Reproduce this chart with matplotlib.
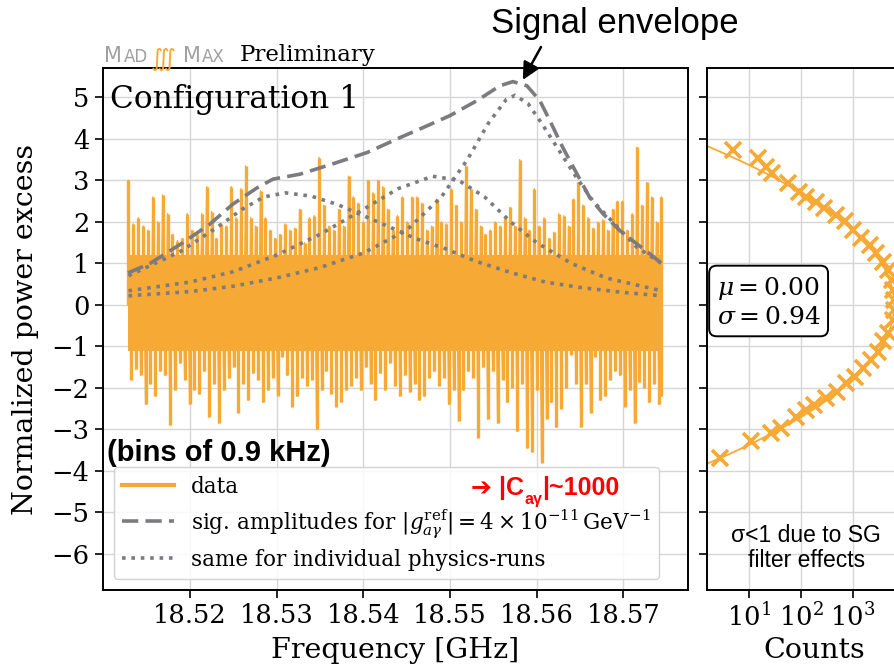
import numpy as np
import matplotlib
matplotlib.use("Agg")
import matplotlib.pyplot as plt
from matplotlib.ticker import NullLocator, FixedLocator

plt.rcParams['font.family'] = ['DejaVu Serif']
plt.rcParams['mathtext.fontset'] = 'dejavuserif'

ORANGE = '#f7a935'
GRAY = '#7b7b80'
SANS = ['Liberation Sans', 'DejaVu Sans']

# ---- data ----
f_start, f_end = 18.5129, 18.5744   # frequency span of the data [GHz]
core_lo, core_hi = -1.1, 1.2        # band that the noise fills solidly

# upper and lower excursions of the noisy power excess, left to right
upper = [3.0, 1.95, 2.1, 1.9, 1.8, 2.6, 2.0, 2.65, 2.2, 1.7, 1.55, 1.6, 2.2, 1.8, 1.7,
         2.2, 2.85, 2.25, 1.6, 1.95, 1.9, 2.85, 2.1, 2.8, 3.35, 2.1, 1.9, 2.75, 2.1, 1.8,
         1.6, 1.7, 1.95, 1.8, 1.85, 2.3, 1.5, 2.1, 2.15, 3.55, 2.4, 1.9, 1.8, 2.3, 1.9,
         3.1, 2.6, 2.45, 2.0, 3.0, 2.7, 3.0, 2.85, 2.3, 1.8, 2.15, 2.6, 2.0, 2.6, 2.6,
         2.45, 1.8, 1.9, 2.55, 2.0, 1.95, 2.8, 2.4, 2.0, 3.35, 2.8, 2.3, 1.9, 1.7, 1.8,
         2.0, 1.9, 2.1, 2.35, 1.9, 3.5, 2.1, 1.8, 2.8, 1.9, 2.1, 1.6, 1.75, 2.2, 2.15,
         1.9, 2.55, 2.95, 2.4, 2.1, 1.85, 2.0, 2.05, 1.8, 2.3, 2.5, 2.5, 1.8, 2.2, 3.8,
         2.4, 2.95, 2.6, 2.0, 2.6]
lower = [-1.8, -1.55, -1.7, -2.4, -1.9, -2.2, -1.6, -1.7, -2.9, -2.05, -1.4, -1.8, -2.4,
         -2.05, -2.15, -1.6, -2.7, -1.9, -2.85, -2.05, -1.75, -1.5, -2.6, -1.9, -2.3, -1.65,
         -1.8, -2.35, -2.05, -1.75, -2.2, -1.25, -1.7, -2.45, -2.2, -1.75, -1.95, -1.8,
         -3.0, -2.05, -1.6, -2.15, -2.45, -2.35, -2.05, -1.95, -1.75, -2.05, -1.5, -1.9,
         -2.3, -1.65, -2.05, -1.4, -1.95, -2.2, -1.7, -2.1, -1.9, -2.3,
         -2.2, -1.75, -1.6, -1.95, -1.75, -2.4, -2.05, -2.8, -2.05, -1.6, -1.75, -3.2,
         -1.5, -2.75, -1.6, -2.85, -1.8, -2.35, -2.0, -3.05, -1.9, -3.45, -3.55, -2.05,
         -3.8, -2.75, -2.35, -2.95, -2.5, -2.0, -1.2, -1.9, -2.95, -1.9, -2.6, -1.25,
         -2.3, -2.2, -1.8, -1.6, -1.7, -2.45, -2.05, -2.85, -1.85, -2.0, -2.35, -1.9,
         -2.4, -2.2]

# signal envelope (dashed)
env_f = [18.51285, 18.51539, 18.51919, 18.52231, 18.52496, 18.52773, 18.52957, 18.53269,
         18.53649, 18.54042, 18.54422, 18.54687, 18.54999, 18.55310, 18.55576, 18.55725,
         18.55887, 18.56037, 18.56152, 18.56302, 18.56464, 18.56614, 18.56764, 18.56960,
         18.57156, 18.57306, 18.57440]
env_v = [0.77, 1.0, 1.5, 1.95, 2.43, 2.82, 3.03, 3.15, 3.4, 3.67, 4.03, 4.27, 4.56, 4.92,
         5.28, 5.38, 5.28, 4.92, 4.44, 3.79, 3.16, 2.58, 2.2, 1.79, 1.47, 1.23, 1.0]

# individual physics-runs (dotted)
run1_f = [18.5129, 18.519, 18.523, 18.526, 18.5285, 18.531, 18.534, 18.537, 18.540,
          18.543, 18.546, 18.5495, 18.553, 18.557, 18.561, 18.565, 18.570, 18.5744]
run1_v = [0.7, 1.3, 1.85, 2.3, 2.6, 2.7, 2.62, 2.42, 2.15, 1.88, 1.6, 1.35, 1.05, 0.78,
          0.55, 0.42, 0.3, 0.22]
run2_f = [18.5129, 18.520, 18.525, 18.530, 18.535, 18.540, 18.544, 18.548, 18.551,
          18.554, 18.557, 18.560, 18.564, 18.568, 18.5744]
run2_v = [0.34, 0.55, 0.8, 1.2, 1.7, 2.3, 2.8, 3.1, 3.0, 2.6, 2.0, 1.5, 1.0, 0.65, 0.34]
run3_f = [18.5129, 18.520, 18.525, 18.530, 18.535, 18.540, 18.545, 18.549, 18.552,
          18.5545, 18.5565, 18.5575, 18.559, 18.5605, 18.5625, 18.5645, 18.5665,
          18.569, 18.5715, 18.5744]
run3_v = [0.22, 0.32, 0.45, 0.65, 0.9, 1.25, 1.8, 2.6, 3.5, 4.4, 4.95, 5.05, 4.85, 4.4,
          3.75, 3.1, 2.5, 1.95, 1.4, 1.0]

# histogram of the power excess (counts per bin)
hist_v = [3.73, 3.53, 3.33, 3.17, 2.93, 2.73, 2.61, 2.49, 2.33, 2.17, 2.01, 1.81, 1.61,
          1.45, 1.25, 1.04, 0.84, 0.6, 0.36, 0.12, -0.12, -0.36, -0.68, -0.88, -1.13,
          -1.33, -1.53, -1.73, -1.89, -2.09, -2.25, -2.41, -2.53, -2.69, -2.97, -3.09,
          -3.29, -3.69]
hist_c = [4.8, 14.5, 21, 28, 55, 93, 125, 196, 282, 477, 690, 1000, 1450, 2100, 2800,
          3800, 4800, 5500, 5900, 6150, 6150, 5900, 4800, 3800, 3000, 2250, 1550, 1070,
          745, 480, 300, 180, 125, 80, 41, 26, 10.8, 2.8]
fit_mu, fit_sigma, fit_peak = 0.00, 0.94, 6200

# ---- figure ----
fig = plt.figure(figsize=(8.95, 6.66), dpi=100)
ax = fig.add_axes([0.1148, 0.1141, 0.6536, 0.7833])
ax2 = fig.add_axes([0.790, 0.1141, 0.2387, 0.7833], sharey=ax)

# noisy data: solid core, the individual spikes and a zig-zag trace between them
fu = np.linspace(f_start, f_end, len(upper))
fl = np.linspace(f_start, f_end, len(lower)) + (f_end - f_start) / len(lower) / 2
fl[-1] = f_end
ax.fill_between([f_start, f_end], core_lo, core_hi, color=ORANGE, lw=0, zorder=2)
ax.vlines(fu, 0, upper, color=ORANGE, lw=2.4, zorder=2)
ax.vlines(fl, lower, 0, color=ORANGE, lw=2.4, zorder=2)
fx = np.concatenate([fu, fl])
fy = np.concatenate([upper, lower])
order = np.argsort(fx, kind='stable')
ax.plot(fx[order], fy[order], color=ORANGE, lw=1.0, zorder=2)
ax.plot([], [], color=ORANGE, lw=3, label='data')

ax.plot(env_f, env_v, color=GRAY, lw=2.6, ls=(0, (4.5, 2)),
        label=r'sig. amplitudes for $|g_{a\gamma}^{\rm ref}| = 4\times10^{-11}\,\rm GeV^{-1}$',
        zorder=3)
ax.plot(run1_f, run1_v, color=GRAY, lw=2.6, ls=(0, (1, 1.6)),
        label='same for individual physics-runs', zorder=3)
ax.plot(run2_f, run2_v, color=GRAY, lw=2.6, ls=(0, (1, 1.6)), zorder=3)
ax.plot(run3_f, run3_v, color=GRAY, lw=2.6, ls=(0, (1, 1.6)), zorder=3)

ax.set_xlim(18.50993, 18.57743)
ax.set_ylim(-6.87, 5.70)
ax.xaxis.set_major_locator(FixedLocator([18.52, 18.53, 18.54, 18.55, 18.56, 18.57]))
ax.set_xticklabels(['18.52', '18.53', '18.54', '18.55', '18.56', '18.57'])
ax.set_yticks(range(-6, 6))
ax.set_yticklabels([str(v).replace('-', '\u2212') for v in range(-6, 6)])
ax.grid(True, color='#d6d6d6', lw=1.0, zorder=0)
ax.set_axisbelow(True)
ax.tick_params(labelsize=18.5, length=6, width=1.2, direction='out')
ax.set_xlabel('Frequency [GHz]', fontsize=20.5, labelpad=6)
ax.set_ylabel('Normalized power excess', fontsize=20.5, labelpad=9)
for s in ax.spines.values():
    s.set_linewidth(1.4)

ax.text(0.012, 0.97, 'Configuration 1', transform=ax.transAxes, fontsize=22.5,
        ha='left', va='top')

leg = ax.legend(loc='lower left', bbox_to_anchor=(0.0, 0.0), fontsize=15.5,
                handlelength=2.4, framealpha=0.85, edgecolor='#cccccc',
                borderpad=0.4, labelspacing=0.42, fancybox=True)

ax.text(615, 643, 'Signal envelope', transform=None, fontsize=25, family=SANS,
        ha='center', va='center')
ax.annotate('', xy=(18.5584, 5.42), xycoords='data',
            xytext=(541, 619), textcoords='figure pixels',
            arrowprops=dict(arrowstyle='-|>', color='black', lw=1.8,
                            mutation_scale=26, shrinkA=0, shrinkB=0),
            annotation_clip=False)

ax.text(0.008, 0.262, '(bins of 0.9 kHz)', transform=ax.transAxes, fontsize=21,
        weight='bold', family=SANS, ha='left', va='center')

t1 = ax.text(0.63, 0.195, '\u2794 |C', transform=ax.transAxes, fontsize=18,
             weight='bold', color='red', family=SANS, ha='left', va='center', zorder=10)
t2 = ax.annotate('a\u03b3', xy=(1.0, 0.05), xycoords=t1, fontsize=11.5, weight='bold',
                 color='red', family=SANS, ha='left', va='center', zorder=10)
ax.annotate('|~1000', xy=(1.0, 0.5), xycoords=(t2, t1), fontsize=18, weight='bold',
            color='red', family=SANS, ha='left', va='center', zorder=10)

# ---- histogram panel ----
vv = np.linspace(-3.9, 3.9, 300)
ax2.plot(fit_peak * np.exp(-(vv - fit_mu) ** 2 / (2 * fit_sigma ** 2)), vv,
         color=ORANGE, lw=1.3, zorder=2)
ax2.plot(hist_c, hist_v, ls='none', marker='x', ms=11, mew=2.6, color=ORANGE, zorder=3)
ax2.set_xscale('log')
ax2.set_xlim(1.55, 2.0e4)
ax2.xaxis.set_major_locator(FixedLocator([10, 100, 1000]))
ax2.xaxis.set_minor_locator(NullLocator())
ax2.grid(True, color='#d6d6d6', lw=1.0, zorder=0)
ax2.set_axisbelow(True)
ax2.tick_params(labelsize=18.5, length=6, width=1.2, direction='out')
ax2.tick_params(axis='y', labelleft=False)
ax2.set_xlabel('Counts', fontsize=20.5)
ax2.xaxis.set_label_coords(0.5, -0.09)
for s in ax2.spines.values():
    s.set_linewidth(1.4)

ax2.text(0.045, 0.07, r'$\mu = %.2f$' % fit_mu + '\n' + r'$\sigma = %.2f$' % fit_sigma,
         transform=ax2.get_yaxis_transform(), fontsize=18, ha='left', va='center',
         bbox=dict(boxstyle='round,pad=0.3', fc='white', ec='black', lw=1.4))
ax2.text(0.465, -5.86, '\u03c3<1 due to SG\nfilter effects', fontsize=16.5,
         family=SANS, ha='center', va='center', linespacing=1.1,
         transform=ax2.get_yaxis_transform())

# ---- logo and preliminary tag ----
LOGO = '#a0a0a0'
base = 1 - 62 / 666
fig.text(104 / 895, base, 'M', fontsize=15, color=LOGO, family=['DejaVu Sans'],
         ha='left', va='baseline')
fig.text(124 / 895, base, 'AD', fontsize=12, color=LOGO, family=['DejaVu Sans'],
         ha='left', va='baseline')
fig.text(151 / 895, 1 - 66 / 666, '\u222d', fontsize=17, color=ORANGE,
         family=['DejaVu Sans'], ha='left', va='baseline')
fig.text(183 / 895, base, 'M', fontsize=15, color=LOGO, family=['DejaVu Sans'],
         ha='left', va='baseline')
fig.text(202 / 895, base, 'AX', fontsize=12, color=LOGO, family=['DejaVu Sans'],
         ha='left', va='baseline')
fig.text(240 / 895, 1 - 61 / 666, 'Preliminary', fontsize=16.5, ha='left', va='baseline')

fig.savefig('out.png', dpi=100)
